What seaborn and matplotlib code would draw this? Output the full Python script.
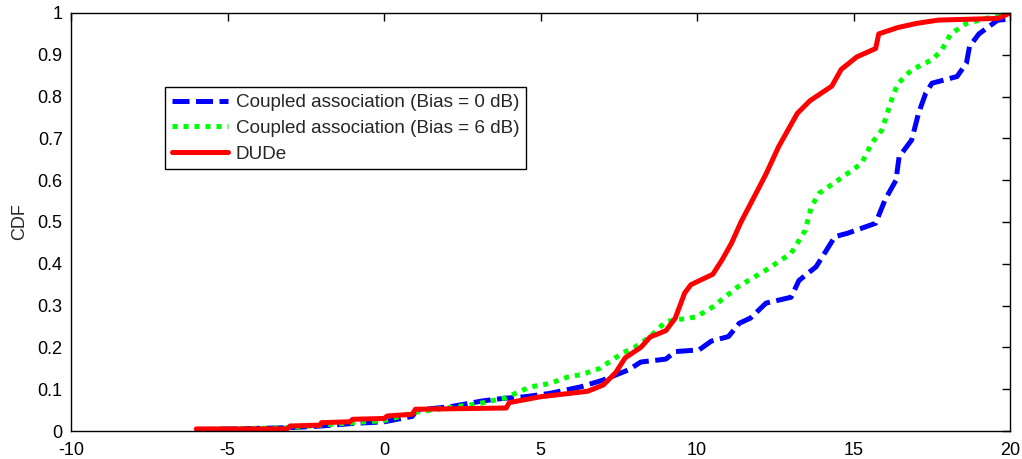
import pandas as pd
import seaborn as sns
import matplotlib.pyplot as plt
import numpy as np

# SINR-like CDF curves
bias0_x = [-6.0, -3.0, -2.0, -1.0, 0.0, 0.9, 1.05, 2.1, 3.15, 3.8, 4.5, 5.3, 6.3, 7.0,
           7.8, 8.2, 9.0, 9.3, 10.06, 10.45, 11.0, 11.35, 11.7, 12.2, 13.0, 13.25, 13.8,
           14.4, 14.8, 15.7, 16.0, 16.35, 16.45, 16.85, 17.07, 17.3, 17.5, 18.3, 18.6,
           18.7, 19.0, 19.6, 20.0]
bias0_y = [0.003, 0.008, 0.012, 0.018, 0.022, 0.035, 0.05, 0.058, 0.072, 0.078, 0.082,
           0.09, 0.106, 0.122, 0.146, 0.165, 0.172, 0.19, 0.194, 0.215, 0.226, 0.258,
           0.27, 0.306, 0.32, 0.36, 0.393, 0.465, 0.473, 0.497, 0.553, 0.6, 0.656, 0.696,
           0.76, 0.808, 0.832, 0.848, 0.88, 0.92, 0.95, 0.983, 0.985]

bias6_x = [-6.0, -3.0, -2.0, -1.0, 0.0, 1.0, 2.0, 3.0, 3.9, 4.2, 4.65, 5.3, 5.9, 6.3,
           6.9, 7.6, 8.0, 8.5, 9.0, 9.97, 10.5, 11.3, 12.2, 13.0, 13.45, 13.65, 13.9,
           14.5, 15.25, 15.57, 15.9, 16.2, 16.4, 16.85, 17.5, 17.8, 18.1, 18.6, 19.4, 20.0]
bias6_y = [0.003, 0.008, 0.014, 0.02, 0.025, 0.045, 0.055, 0.065, 0.08, 0.09, 0.105,
           0.114, 0.13, 0.135, 0.15, 0.186, 0.2, 0.226, 0.262, 0.273, 0.297, 0.345,
           0.385, 0.425, 0.48, 0.537, 0.569, 0.6, 0.64, 0.688, 0.72, 0.79, 0.83, 0.864,
           0.888, 0.91, 0.95, 0.975, 0.99, 1.0]

dude_x = [-6.0, -3.1, -3.0, -2.05, -2.0, -1.1, -1.0, 0.0, 0.1, 0.9, 1.0, 3.9, 4.0, 4.5,
          5.0, 5.7, 6.5, 7.0, 7.4, 7.7, 8.2, 8.5, 9.0, 9.3, 9.6, 9.8, 10.5, 10.8, 11.1,
          11.4, 11.75, 12.2, 12.6, 12.9, 13.2, 13.6, 14.0, 14.3, 14.6, 15.1, 15.7, 15.8,
          16.4, 17.0, 17.7, 19.6, 20.0]
dude_y = [0.005, 0.005, 0.012, 0.014, 0.02, 0.022, 0.028, 0.03, 0.036, 0.04, 0.052,
          0.055, 0.068, 0.075, 0.082, 0.088, 0.095, 0.11, 0.14, 0.175, 0.2, 0.225, 0.24,
          0.27, 0.33, 0.35, 0.375, 0.41, 0.45, 0.5, 0.55, 0.615, 0.68, 0.72, 0.76, 0.79,
          0.81, 0.825, 0.865, 0.895, 0.915, 0.95, 0.965, 0.975, 0.983, 0.987, 1.0]

labels = ['Coupled association (Bias = 0 dB)',
          'Coupled association (Bias = 6 dB)',
          'DUDe']
x_ticks = [-10, -5, 0, 5, 10, 15, 20]
y_ticks = [0, 0.1, 0.2, 0.3, 0.4, 0.5, 0.6, 0.7, 0.8, 0.9, 1]
y_ticklabels = ['0', '0.1', '0.2', '0.3', '0.4', '0.5', '0.6', '0.7', '0.8', '0.9', '1']

sns.set_style("white")
plt.rcParams['font.family'] = ['Liberation Sans', 'DejaVu Sans']

fig = plt.figure(figsize=(10.22, 4.59), dpi=100)
ax = fig.add_axes([0.0695, 0.061, 0.919, 0.9107])

sns.lineplot(x=bias0_x, y=bias0_y, ax=ax, color='#0000ff', linewidth=3.6,
             estimator=None, sort=False, label=labels[0])
sns.lineplot(x=bias6_x, y=bias6_y, ax=ax, color='#00ff00', linewidth=3.6,
             estimator=None, sort=False, label=labels[1])
sns.lineplot(x=dude_x, y=dude_y, ax=ax, color='#ff0000', linewidth=3.6,
             estimator=None, sort=False, label=labels[2])

# MATLAB-ish line styles
ax.lines[0].set_dashes([3.4, 1.3])
ax.lines[1].set_dashes([1.0, 1.2])

ax.set_xlim(-10, 20)
ax.set_ylim(0, 1)
ax.set_xticks(x_ticks)
ax.set_xticklabels([str(t) for t in x_ticks])
ax.set_yticks(y_ticks)
ax.set_yticklabels(y_ticklabels)
ax.tick_params(direction='in', length=6, width=1, top=True, right=True,
               labelsize=13, colors='black')
ax.tick_params(axis='x', pad=8)
ax.tick_params(axis='y', pad=6)
ax.set_ylabel('CDF', fontsize=13, labelpad=7)
ax.set_xlabel('')
for s in ax.spines.values():
    s.set_color('black')
    s.set_linewidth(1)

leg = ax.legend(loc='upper left', bbox_to_anchor=(0.1, 0.822), fontsize=13.6,
                frameon=True, fancybox=False, edgecolor='black', framealpha=1,
                handlelength=3.0, handletextpad=0.4, borderpad=0.35, labelspacing=0.45,
                borderaxespad=0)
leg.get_frame().set_linewidth(1)

plt.savefig('out.png', dpi=100)
